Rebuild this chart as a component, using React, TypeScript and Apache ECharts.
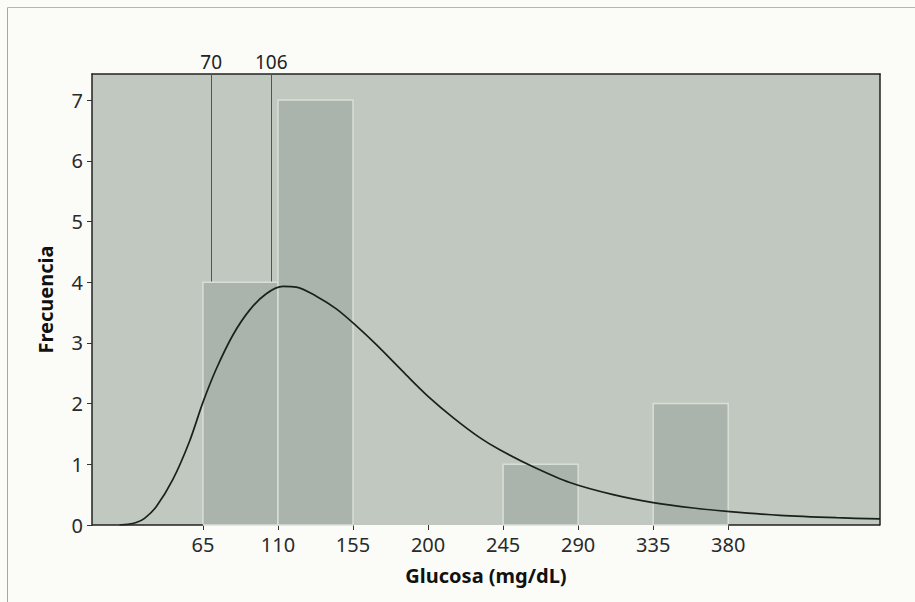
import React, { useEffect, useRef } from "react";
import * as echarts from "echarts";

// Histogram bins (mg/dL) and frequencies
const binStarts = [65, 110, 155, 200, 245, 290, 335];
const binWidth = 45;
const counts = [4, 7, 0, 0, 1, 0, 2];

// Axis ticks
const xTicks = [65, 110, 155, 200, 245, 290, 335, 380];
const yTicks = [0, 1, 2, 3, 4, 5, 6, 7];

// Reference lines
const refLines = [70, 106];

// Fitted curve
const curveX = [15, 20, 25, 30, 37, 47, 57, 65, 73, 83, 93, 103, 113, 121, 133, 145, 157, 169, 187, 200, 215, 231, 243, 263, 285, 311, 335, 359, 381, 411, 445, 471];
const curveY = [0, 0.01, 0.04, 0.11, 0.3, 0.75, 1.38, 2.02, 2.57, 3.13, 3.54, 3.81, 3.93, 3.92, 3.77, 3.56, 3.28, 2.97, 2.47, 2.12, 1.77, 1.44, 1.24, 0.96, 0.7, 0.5, 0.37, 0.28, 0.22, 0.16, 0.12, 0.1];

const xMin = -1.5;
const xMax = 471;
const yMax = 7.43;

const FONT = "Noto Sans";

export default function App() {
  const ref = useRef<HTMLDivElement>(null);

  useEffect(() => {
    document.body.style.margin = "0";
    if (!ref.current) return;
    const chart = echarts.init(ref.current, undefined, { renderer: "svg" });

    const histData = binStarts.map((s, i) => [s, s + binWidth, counts[i]]);
    const curveData = curveX.map((x, i) => [x, curveY[i]]);

    const option: any = {
      animation: false,
      backgroundColor: "#fbfcf8",
      textStyle: { fontFamily: FONT },
      graphic: [
        { type: "line", shape: { x1: 7.5, y1: 7.5, x2: 7.5, y2: 602 }, style: { stroke: "#a4a8a2", lineWidth: 1 }, silent: true },
        { type: "line", shape: { x1: 7.5, y1: 7.5, x2: 915, y2: 7.5 }, style: { stroke: "#b4b8b2", lineWidth: 1 }, silent: true },
      ],
      grid: {
        left: 92,
        right: 35,
        top: 74,
        bottom: 77,
        show: true,
        backgroundColor: "#c0c8bf",
        borderWidth: 0,
      },
      xAxis: [
        {
          type: "value",
          min: xMin,
          max: xMax,
          name: "Glucosa (mg/dL)",
          nameLocation: "middle",
          nameGap: 40,
          nameTextStyle: { fontFamily: FONT, fontWeight: "bold", fontSize: 20, color: "#111" },
          axisLine: { show: false },
          axisTick: { show: true, customValues: xTicks, length: 5, lineStyle: { color: "#333" } },
          axisLabel: { customValues: xTicks, fontSize: 20, color: "#2a2a2a", margin: 9, fontFamily: FONT },
          splitLine: { show: false },
        },
        {
          type: "value",
          position: "top",
          min: xMin,
          max: xMax,
          axisLine: { show: true, onZero: false, lineStyle: { color: "#222", width: 1.5 } },
          axisTick: { show: false },
          axisLabel: { show: false },
          splitLine: { show: false },
        },
      ],
      yAxis: [
        {
          type: "value",
          min: 0,
          max: yMax,
          name: "Frecuencia",
          nameLocation: "middle",
          nameGap: 37,
          nameTextStyle: { fontFamily: FONT, fontWeight: "bold", fontSize: 20, color: "#111" },
          axisLine: { show: true, onZero: false, lineStyle: { color: "#222", width: 1.5 } },
          axisTick: { show: true, customValues: yTicks, length: 5, lineStyle: { color: "#333" } },
          axisLabel: { customValues: yTicks, fontSize: 20, color: "#2a2a2a", margin: 9, fontFamily: FONT },
          splitLine: { show: false },
        },
        {
          type: "value",
          position: "right",
          min: 0,
          max: yMax,
          axisLine: { show: true, onZero: false, lineStyle: { color: "#222", width: 1.5 } },
          axisTick: { show: false },
          axisLabel: { show: false },
          splitLine: { show: false },
        },
      ],
      series: [
        {
          type: "custom",
          xAxisIndex: 0,
          yAxisIndex: 0,
          z: 2,
          data: histData,
          encode: { x: [0, 1], y: 2 },
          renderItem: (params: any, api: any) => {
            const lo = api.value(0);
            const hi = api.value(1);
            const c = api.value(2);
            if (!c) return null;
            const p1 = api.coord([lo, c]);
            const p2 = api.coord([hi, 0]);
            return {
              type: "rect",
              shape: { x: p1[0], y: p1[1], width: p2[0] - p1[0], height: p2[1] - p1[1] },
              style: { fill: "#abb4ac", stroke: "#d9dfd7", lineWidth: 1.5 },
            };
          },
          markLine: {
            silent: true,
            z: 1,
            symbol: "none",
            lineStyle: { color: "#4f574f", width: 1, type: "solid" },
            label: {
              show: true,
              position: "end",
              distance: 3,
              formatter: "{c}",
              fontSize: 19,
              color: "#222",
              fontFamily: FONT,
            },
            data: refLines.map((v) => ({ xAxis: v })),
          },
        },
        {
          type: "line",
          xAxisIndex: 0,
          yAxisIndex: 0,
          z: 3,
          data: curveData,
          smooth: 0.3,
          showSymbol: false,
          symbol: "none",
          lineStyle: { color: "#18211a", width: 1.7 },
          markLine: {
            silent: true,
            z: 4,
            symbol: "none",
            lineStyle: { color: "#222", width: 1.5, type: "solid" },
            label: { show: false },
            data: [
              [{ coord: [xMin, 0] }, { coord: [xTicks[0], 0] }],
              [{ coord: [xTicks[xTicks.length - 1], 0] }, { coord: [xMax, 0] }],
            ],
          },
        },
      ],
    };

    chart.setOption(option);
    return () => chart.dispose();
  }, []);

  return <div ref={ref} style={{ width: 915, height: 602 }} />;
}
